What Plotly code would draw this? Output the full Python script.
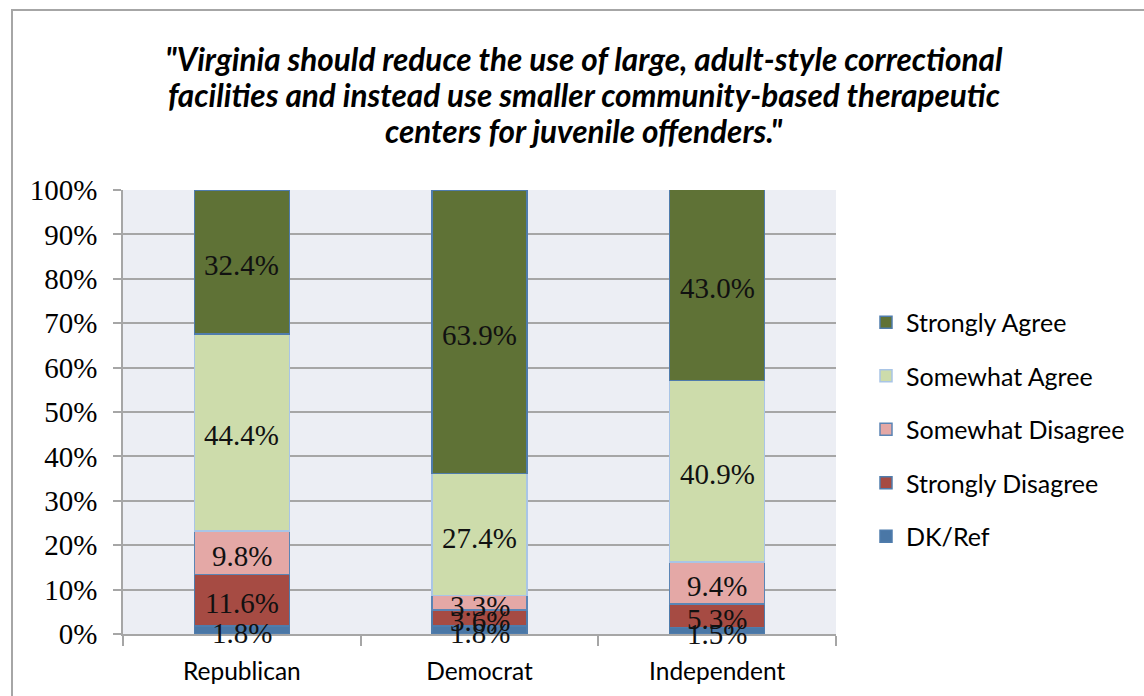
import plotly.graph_objects as go

# Survey responses by party (percent of respondents)
parties = ["Republican", "Democrat", "Independent"]
responses = ["DK/Ref", "Strongly Disagree", "Somewhat Disagree", "Somewhat Agree", "Strongly Agree"]
dk_ref = [1.8, 1.8, 1.5]
strongly_disagree = [11.6, 3.6, 5.3]
somewhat_disagree = [9.8, 3.3, 9.4]
somewhat_agree = [44.4, 27.4, 40.9]
strongly_agree = [32.4, 63.9, 43.0]

title_lines = [
    "\"Virginia should reduce the use of large, adult-style correctional",
    "facilities and instead use smaller community-based therapeutic",
    "centers for juvenile offenders.\"",
]

series = [dk_ref, strongly_disagree, somewhat_disagree, somewhat_agree, strongly_agree]
fills = ["#4a77a6", "#a64b43", "#e4a8a6", "#cddcab", "#5f7236"]
edges = ["#4f7cac", "#4f7cac", "#5b85b5", "#a9c5e6", "#4f7cac"]

W, H = 1144, 696
L, R, T, B = 123, 308, 190, 62
PW, PH = W - L - R, H - T - B


def px_x(x):
    return (x - L) / PW


def px_y(y):
    return (H - B - y) / PH


SERIF = "Liberation Serif"
SANS = "Lato"

fig = go.Figure()
n = len(responses)
for k, (name, vals, fc, ec) in enumerate(zip(responses, series, fills, edges)):
    fig.add_trace(go.Bar(
        x=parties, y=vals, name=name, legendgroup=name,
        legendrank=n - k,  # top segment listed first
        marker=dict(color=fc, line=dict(color=ec, width=1.5)),
        hoverinfo="skip",
    ))

# value labels centred in each stacked segment
annotations = []
base = [0.0] * len(parties)
for vals in series:
    for i, v in enumerate(vals):
        annotations.append(dict(
            x=parties[i], y=base[i] + v / 2, xref="x", yref="y",
            text=f"{v:.1f}%", showarrow=False, yshift=-3,
            font=dict(family=SERIF, size=29, color="#111111"),
        ))
        base[i] += v

for k, line in enumerate(title_lines):
    annotations.append(dict(
        x=px_x(584), y=px_y(59 + 36 * k), xref="paper", yref="paper",
        text=f"<b><i>{line}</i></b>", showarrow=False,
        xanchor="center", yanchor="middle",
        font=dict(family=SANS, size=31.5, color="#000000"),
    ))

fig.update_layout(
    width=W, height=H,
    margin=dict(l=L, r=R, t=T, b=B, pad=0),
    barmode="stack", bargap=0.6,
    paper_bgcolor="#ffffff", plot_bgcolor="#eceef4",
    annotations=annotations,
    legend=dict(
        x=px_x(866), y=px_y(299.5), xanchor="left", yanchor="top",
        traceorder="grouped", tracegroupgap=18,
        font=dict(family=SANS, size=25, color="#000000"),
        bgcolor="rgba(0,0,0,0)",
    ),
    shapes=[dict(
        type="rect", xref="paper", yref="paper",
        x0=px_x(12), y0=px_y(760), x1=px_x(1200), y1=px_y(10),
        line=dict(color="#a6a6a6", width=2), fillcolor="rgba(0,0,0,0)",
        layer="below",
    )],
)

fig.update_yaxes(
    range=[0, 100], dtick=10, ticksuffix="%",
    showgrid=True, gridcolor="#a6a6a6", gridwidth=1.5,
    showline=True, linecolor="#a6a6a6", linewidth=1.5,
    ticks="outside", ticklen=8, tickcolor="#a6a6a6", tickwidth=1.5,
    ticklabelstandoff=10, zeroline=False,
    tickfont=dict(family=SERIF, size=29, color="#000000"),
)
fig.update_xaxes(
    showline=True, linecolor="#a6a6a6", linewidth=1.5,
    ticks="outside", tickson="boundaries", ticklen=10,
    tickcolor="#a6a6a6", tickwidth=1.5, showgrid=False,
    ticklabelstandoff=15,
    tickfont=dict(family=SANS, size=24.5, color="#000000"),
)

fig.write_html("out.html")
